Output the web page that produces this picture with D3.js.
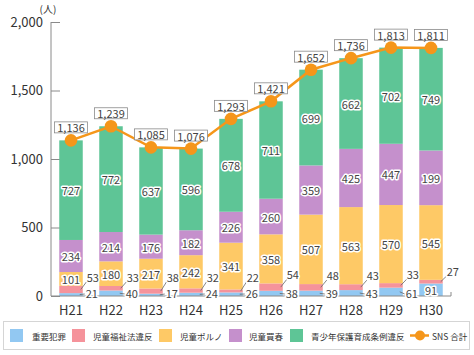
<!DOCTYPE html>
<html><head><meta charset="utf-8">
<script src="https://cdn.jsdelivr.net/npm/d3@7"></script>
<style>body{margin:0;background:#fff}svg{display:block}</style>
</head><body><svg id="c" width="474" height="355"></svg>
<script>
const years = ["H21","H22","H23","H24","H25","H26","H27","H28","H29","H30"];
const seriousCrime = [21,40,17,24,26,38,39,43,61,91];
const childWelfare = [53,33,38,32,22,54,48,43,33,27];
const childPorn = [101,180,217,242,341,358,507,563,570,545];
const childProstitution = [234,214,176,182,226,260,359,425,447,399];
const childProstitutionLabels = ["234","214","176","182","226","260","359","425","447","199"];
const youthOrdinance = [727,772,637,596,678,711,699,662,702,749];
const snsTotal = [1136,1239,1085,1076,1293,1421,1652,1736,1813,1811];
const seriesNames = ["重要犯罪","児童福祉法違反","児童ポルノ","児童買春","青少年保護育成条例違反"];
const lineName = "SNS 合計";
const yTicks = [0,500,1000,1500,2000];
const unitLabel = "(人)";

const colors = ["#92c8f2","#f5939b","#fec966","#c590cc","#5ec596"];
const lineColor = "#f5961a";
const FONT = "'Noto Sans CJK JP','Noto Sans',sans-serif";

const seriesValues = [seriousCrime, childWelfare, childPorn, childProstitution, youthOrdinance];
const seriesLabels = [seriousCrime.map(String), childWelfare.map(String), childPorn.map(String), childProstitutionLabels, youthOrdinance.map(String)];
const keys = seriesNames;
const table = years.map((y, j) => {
  const row = {year: y};
  keys.forEach((k, i) => row[k] = seriesValues[i][j]);
  return row;
});

const svg = d3.select("#c").style("font-family", FONT);
svg.append("rect").attr("width",474).attr("height",355).attr("fill","#fff");

const x = d3.scaleBand().domain(years).range([51,451]).paddingInner(0.4125).paddingOuter(0.20625);
const y = d3.scaleLinear().domain([0,2000]).range([296,22]);

// y axis
const yAxis = svg.append("g").attr("transform","translate(51,0)")
  .call(d3.axisRight(y).tickValues(yTicks).tickSize(9).tickFormat(""));
yAxis.select(".domain").attr("stroke","#8a8a8a").attr("d","M0,22V296");
yAxis.selectAll(".tick line").attr("stroke","#8a8a8a");
svg.append("g").selectAll("text").data(yTicks).join("text")
  .attr("x",43).attr("y",d=>y(d)+1).attr("text-anchor","end").attr("dominant-baseline","middle")
  .attr("font-size",13).attr("fill","#333").text(d3.format(","));
svg.append("text").attr("x",48).attr("y",10).attr("text-anchor","middle").attr("dominant-baseline","middle")
  .attr("font-size",10).attr("fill","#333").text(unitLabel);

// bars
const stacked = d3.stack().keys(keys)(table);
const g = svg.append("g");
stacked.forEach((s, i) => {
  g.append("g").attr("fill", colors[i]).selectAll("rect").data(s).join("rect")
    .attr("x", d => x(d.data.year)).attr("width", x.bandwidth())
    .attr("y", d => y(d[1])).attr("height", d => y(d[0]) - y(d[1]));
});

// x axis
const xAxis = svg.append("g").attr("transform","translate(0,296)")
  .call(d3.axisBottom(x).tickSize(0).tickPadding(10));
xAxis.select(".domain").attr("stroke","#8a8a8a").attr("d","M51,0H451V-4");
xAxis.selectAll("text").attr("font-size",13).attr("fill","#333").attr("font-family",FONT);

// segment labels
const lbl = svg.append("g").attr("font-size",11);
function haloText(sel){
  sel.attr("fill","#444").attr("stroke","#fff").attr("stroke-width",3)
     .attr("stroke-linejoin","round").attr("paint-order","stroke");
}
stacked.forEach((s, i) => {
  s.forEach((d, j) => {
    const top = y(d[1]), bot = y(d[0]), h = bot - top, mid = (top + bot) / 2;
    const cx = x(d.data.year) + x.bandwidth() / 2;
    const right = x(d.data.year) + x.bandwidth();
    const text = seriesLabels[i][j];
    if (h >= 11) {
      lbl.append("text").attr("x",cx).attr("y",mid).attr("text-anchor","middle")
        .attr("dominant-baseline","central").text(text).call(haloText);
    } else if (i === 0) {
      lbl.append("line").attr("x1",right-3).attr("y1",mid).attr("x2",right+2).attr("y2",294)
        .attr("stroke","#666").attr("stroke-width",0.8);
      lbl.append("text").attr("x",right+3).attr("y",292.5).attr("dominant-baseline","central")
        .text(text).call(haloText);
    } else {
      const ty = Math.min(top - 9, 276.5);
      lbl.append("line").attr("x1",right-2).attr("y1",mid).attr("x2",right+4).attr("y2",ty+5)
        .attr("stroke","#666").attr("stroke-width",0.8);
      lbl.append("text").attr("x",right+4).attr("y",ty).attr("dominant-baseline","central")
        .text(text).call(haloText);
    }
  });
});

// line
const cxOf = (d, j) => x(years[j]) + x.bandwidth() / 2;
svg.append("path").datum(snsTotal)
  .attr("fill","none").attr("stroke",lineColor).attr("stroke-width",2.5)
  .attr("d", d3.line().x(cxOf).y(d => y(d)));
svg.append("g").selectAll("circle").data(snsTotal).join("circle")
  .attr("cx", cxOf).attr("cy", d => y(d)).attr("r", 6.3).attr("fill", lineColor);

// value boxes
const vb = svg.append("g").selectAll("g").data(snsTotal).join("g")
  .attr("transform", (d, j) => `translate(${cxOf(d,j)},${y(d) - 13})`);
vb.append("rect").attr("x",-16.5).attr("y",-5.5).attr("width",33).attr("height",11)
  .attr("fill","#fff").attr("stroke","#8a8a8a").attr("stroke-width",0.8);
vb.append("text").attr("text-anchor","middle").attr("dominant-baseline","central").attr("y",0)
  .attr("font-size",11).attr("fill","#444").text(d3.format(","));

// legend
const leg = svg.append("g");
leg.append("rect").attr("x",3.5).attr("y",321.5).attr("width",466).attr("height",28)
  .attr("fill","#fff").attr("stroke","#d5d5d5").attr("stroke-width",1);
const swX = [10, 72, 159, 229, 290];
const txX = [32, 93, 180, 249, 311];
seriesNames.forEach((n, i) => {
  leg.append("rect").attr("x",swX[i]).attr("y",329).attr("width",13).attr("height",13).attr("fill",colors[i]);
  leg.append("text").attr("x",txX[i]).attr("y",336).attr("dominant-baseline","central")
    .attr("font-size",8.5).attr("fill","#333").text(n);
});
leg.append("line").attr("x1",410).attr("x2",429).attr("y1",335.5).attr("y2",335.5)
  .attr("stroke",lineColor).attr("stroke-width",2.5);
leg.append("circle").attr("cx",420).attr("cy",335.5).attr("r",5).attr("fill",lineColor);
leg.append("text").attr("x",432).attr("y",336).attr("dominant-baseline","central")
  .attr("font-size",8.5).attr("fill","#333").text(lineName);
</script></body></html>
